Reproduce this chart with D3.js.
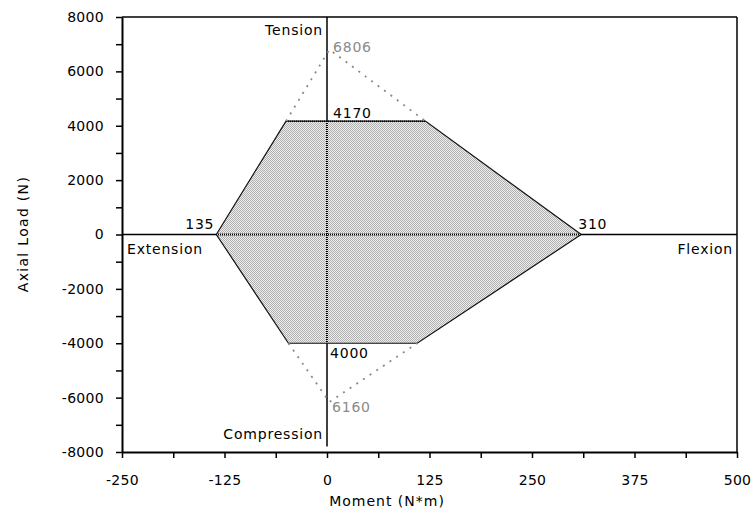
<!DOCTYPE html>
<html>
<head>
<meta charset="utf-8">
<script src="https://cdn.jsdelivr.net/npm/d3@7"></script>
<style>
  html, body { margin: 0; padding: 0; background: #fff; }
  svg { display: block; }
  text { font-family: "DejaVu Sans", Verdana, sans-serif; }
</style>
</head>
<body>
<script>
// ---- data ----
const xTicks = [-250, -125, 0, 125, 250, 375, 500];
const xMinorTicks = [-187.5, -62.5, 62.5, 187.5, 312.5, 437.5];
const yTicks = [-8000, -6000, -4000, -2000, 0, 2000, 4000, 6000, 8000];
const yMinorTicks = [-7000, -5000, -3000, -1000, 1000, 3000, 5000, 7000];
// safe envelope (moment N*m, axial load N)
const envelopeX = [-135, -50, 120, 310, 110, -47];
const envelopeY = [0, 4170, 4170, 0, -4000, -4000];
// theoretical limits (dotted)
const tensionX = [-50, 3, 120];
const tensionY = [4170, 6806, 4170];
const compressionX = [-47, 3, 110];
const compressionY = [-4000, -6160, -4000];
const xTitle = "Moment (N*m)";
const yTitle = "Axial Load (N)";

const W = 751, H = 520;
const svg = d3.select("body").append("svg").attr("width", W).attr("height", H);

const x = d3.scaleLinear().domain([-250, 500]).range([122, 737]);
const y = d3.scaleLinear().domain([-8000, 8000]).range([452, 17]);

// pattern fill
const defs = svg.append("defs");
const pat = defs.append("pattern").attr("id", "hatch")
  .attr("patternUnits", "userSpaceOnUse").attr("width", 2).attr("height", 2);
pat.append("rect").attr("width", 2).attr("height", 2).attr("fill", "#eeeeee");
pat.append("rect").attr("x", 0).attr("y", 0).attr("width", 1).attr("height", 1).attr("fill", "#b0b0b0");
pat.append("rect").attr("x", 1).attr("y", 1).attr("width", 1).attr("height", 1).attr("fill", "#b0b0b0");

// zero lines (solid)
svg.append("line").attr("x1", x(-250)).attr("x2", x(500)).attr("y1", y(0)).attr("y2", y(0))
  .attr("stroke", "#000").attr("stroke-width", 1.5);
svg.append("line").attr("x1", x(0)).attr("x2", x(0)).attr("y1", y(8000)).attr("y2", y(-7800))
  .attr("stroke", "#000").attr("stroke-width", 1.5);

// envelope polygon
const env = envelopeX.map((v, i) => [x(v), y(envelopeY[i])]);
svg.append("path").attr("d", d3.line()(env) + "Z")
  .attr("fill", "url(#hatch)").attr("stroke", "#111").attr("stroke-width", 1.2);

// dotted zero lines inside envelope
const clip = defs.append("clipPath").attr("id", "envClip");
clip.append("path").attr("d", d3.line()(env) + "Z");
const inner = svg.append("g").attr("clip-path", "url(#envClip)");
inner.append("line").attr("x1", x(-250)).attr("x2", x(500)).attr("y1", y(0)).attr("y2", y(0))
  .attr("stroke", "#000").attr("stroke-width", 2).attr("stroke-dasharray", "1,1");
inner.append("line").attr("x1", x(0)).attr("x2", x(0)).attr("y1", y(8000)).attr("y2", y(-8000))
  .attr("stroke", "#000").attr("stroke-width", 2).attr("stroke-dasharray", "1,1");
// dotted top edge
svg.append("line").attr("x1", x(envelopeX[1])).attr("x2", x(envelopeX[2]))
  .attr("y1", y(envelopeY[1])).attr("y2", y(envelopeY[2]))
  .attr("stroke", "#000").attr("stroke-width", 1.5).attr("stroke-dasharray", "1,1");

// theoretical limit dotted gray lines
const lim = d3.line();
svg.append("path").attr("d", lim(tensionX.map((v, i) => [x(v), y(tensionY[i])])))
  .attr("fill", "none").attr("stroke", "#8a8a8a").attr("stroke-width", 1.8).attr("stroke-dasharray", "2,6");
svg.append("path").attr("d", lim(compressionX.map((v, i) => [x(v), y(compressionY[i])])))
  .attr("fill", "none").attr("stroke", "#8a8a8a").attr("stroke-width", 1.8).attr("stroke-dasharray", "2,6");

// frame top/right
svg.append("line").attr("x1", x(-250)).attr("x2", x(500)).attr("y1", y(8000)).attr("y2", y(8000))
  .attr("stroke", "#000").attr("stroke-width", 1.5);
svg.append("line").attr("x1", x(500)).attr("x2", x(500)).attr("y1", y(8000)).attr("y2", y(-8000))
  .attr("stroke", "#000").attr("stroke-width", 1.5);

// axes
const fmt = d => String(d);
const xAxis = svg.append("g").attr("transform", `translate(0,${y(-8000)})`)
  .call(d3.axisBottom(x).tickValues(xTicks.concat(xMinorTicks)).tickSize(6).tickSizeOuter(0)
    .tickFormat(d => xTicks.includes(d) ? fmt(d) : ""));
const yAxis = svg.append("g").attr("transform", `translate(${x(-250)},0)`)
  .call(d3.axisLeft(y).tickValues(yTicks.concat(yMinorTicks)).tickSize(6).tickSizeOuter(0)
    .tickFormat(d => yTicks.includes(d) ? fmt(d) : ""));
[xAxis, yAxis].forEach(g => {
  g.select(".domain").attr("stroke", "#000").attr("stroke-width", 2);
  g.selectAll(".tick line").attr("stroke", "#000").attr("stroke-width", 1.5);
  g.selectAll(".tick text").attr("fill", "#000").style("font-size", "14px")
    .style("font-family", '"DejaVu Sans", Verdana, sans-serif').style("letter-spacing", "0.3px");
});
xAxis.selectAll(".tick text").attr("y", 23).attr("dy", "0.71em");
yAxis.selectAll(".tick text").attr("x", -18);

// axis titles
svg.append("text").attr("x", 387).attr("y", 506).attr("text-anchor", "middle")
  .style("font-size", "14px").style("letter-spacing", "1px").text(xTitle);
svg.append("text").attr("transform", `translate(28,234) rotate(-90)`).attr("text-anchor", "middle")
  .style("font-size", "14px").style("letter-spacing", "1.3px").text(yTitle);

// annotations
function label(txt, px, py, anchor, color) {
  svg.append("text").attr("x", px).attr("y", py).attr("text-anchor", anchor)
    .attr("fill", color || "#000").style("font-size", "14px").style("letter-spacing", "0.8px").text(txt);
}
label("Tension", x(0) - 4, y(8000) + 18, "end");
label("Compression", x(0) - 4, y(-8000) - 13, "end");
label("Extension", x(-250) + 5, y(0) + 19, "start");
label("Flexion", x(500) - 4, y(0) + 19, "end");
label(String(tensionY[1]), x(0) + 6, y(tensionY[1]) + 3, "start", "#8a8a8a");
label(String(envelopeY[1]), x(0) + 6, y(envelopeY[1]) - 3, "start");
label(String(-envelopeY[4]), x(0) + 3, y(envelopeY[4]) + 15, "start");
label(String(-compressionY[1]), x(0) + 5, y(compressionY[1]) + 10, "start", "#8a8a8a");
label(String(-envelopeX[0]), x(envelopeX[0]) - 2, y(0) - 6, "end");
label(String(envelopeX[3]), x(envelopeX[3]) - 3, y(0) - 6, "start");
</script>
</body>
</html>
